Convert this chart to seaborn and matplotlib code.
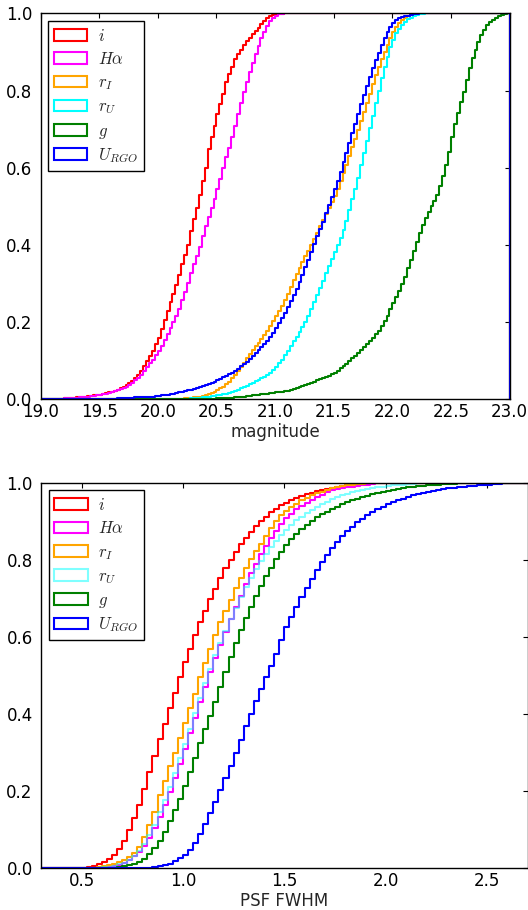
import numpy as np
import pandas as pd
import matplotlib
matplotlib.use("Agg")
import matplotlib.pyplot as plt
from matplotlib.patches import Patch
from matplotlib.ticker import FormatStrFormatter
import seaborn as sns

sns.set_style("white")
plt.rcParams["font.family"] = ["DejaVu Sans"]
plt.rcParams["mathtext.fontset"] = "cm"

# ---------------- data ----------------
legend_labels = [r"$i$", r"$H\alpha$", r"$r_I$", r"$r_U$", r"$g$", r"$U_{RGO}$"]
colors = ["red", "magenta", "orange", "cyan", "green", "blue"]

# bin edges (0.025 wide)
mag_edges = np.linspace(19.0, 23.0, 161)
fwhm_edges = np.linspace(0.3, 2.75, 99)

mag_xticks = [19.0, 19.5, 20.0, 20.5, 21.0, 21.5, 22.0, 22.5, 23.0]
fwhm_xticks = [0.5, 1.0, 1.5, 2.0, 2.5]
y_ticks = [0.0, 0.2, 0.4, 0.6, 0.8, 1.0]

# cumulative fractions per magnitude bin (from 19.025), saturating at 1.0
mag_i = [
    0, 0, 0, 0.001, 0.001, 0.001, 0.002, 0.002,
    0.003, 0.003, 0.004, 0.004, 0.005, 0.006, 0.007, 0.007,
    0.008, 0.009, 0.010, 0.011, 0.012, 0.014, 0.016, 0.018,
    0.020, 0.022, 0.025, 0.028, 0.032, 0.037, 0.042, 0.048,
    0.055, 0.064, 0.074, 0.086, 0.099, 0.112, 0.126, 0.142,
    0.160, 0.182, 0.205, 0.228, 0.251, 0.273, 0.297, 0.323,
    0.350, 0.375, 0.400, 0.435, 0.467, 0.496, 0.530, 0.565,
    0.600, 0.648, 0.680, 0.708, 0.740, 0.765, 0.792, 0.822,
    0.842, 0.862, 0.881, 0.894, 0.906, 0.918, 0.928, 0.937,
    0.946, 0.954, 0.963, 0.972, 0.980, 0.987, 0.992, 0.995,
    0.997, 0.998, 0.999, 1.0,
]
mag_ha = [
    0, 0, 0, 0.001, 0.001, 0.001, 0.002, 0.002,
    0.003, 0.003, 0.003, 0.004, 0.004, 0.005, 0.005, 0.006,
    0.007, 0.008, 0.009, 0.010, 0.011, 0.013, 0.015, 0.017,
    0.019, 0.021, 0.023, 0.026, 0.029, 0.033, 0.038, 0.043,
    0.049, 0.056, 0.064, 0.073, 0.083, 0.093, 0.103, 0.114,
    0.126, 0.139, 0.153, 0.168, 0.184, 0.200, 0.217, 0.235,
    0.256, 0.279, 0.302, 0.326, 0.350, 0.372, 0.395, 0.423,
    0.450, 0.472, 0.495, 0.518, 0.545, 0.572, 0.600, 0.628,
    0.652, 0.680, 0.708, 0.738, 0.768, 0.795, 0.822, 0.848,
    0.872, 0.895, 0.915, 0.935, 0.952, 0.967, 0.979, 0.988,
    0.994, 0.997, 0.999, 1.0,
]
mag_ri = [
    0, 0, 0, 0, 0, 0, 0, 0,
    0, 0, 0, 0, 0, 0, 0, 0,
    0, 0, 0, 0, 0, 0, 0, 0,
    0, 0, 0, 0, 0, 0, 0, 0,
    0, 0, 0, 0, 0, 0, 0, 0,
    0, 0, 0, 0, 0.001, 0.001, 0.001, 0.002,
    0.002, 0.003, 0.003, 0.004, 0.005, 0.006, 0.007, 0.008,
    0.010, 0.013, 0.016, 0.020, 0.024, 0.028, 0.033, 0.039,
    0.046, 0.054, 0.063, 0.073, 0.083, 0.094, 0.106, 0.117,
    0.127, 0.137, 0.146, 0.156, 0.167, 0.178, 0.190, 0.202,
    0.215, 0.229, 0.243, 0.258, 0.274, 0.291, 0.308, 0.325,
    0.341, 0.356, 0.371, 0.385, 0.400, 0.416, 0.432, 0.449,
    0.465, 0.480, 0.496, 0.511, 0.527, 0.545, 0.565, 0.585,
    0.607, 0.630, 0.653, 0.675, 0.697, 0.720, 0.744, 0.767,
    0.792, 0.816, 0.840, 0.862, 0.882, 0.900, 0.918, 0.936,
    0.952, 0.964, 0.974, 0.982, 0.988, 0.993, 0.996, 0.998,
    0.999, 1.0,
]
mag_ru = [
    0, 0, 0, 0, 0, 0, 0, 0,
    0, 0, 0, 0, 0, 0, 0, 0,
    0, 0, 0, 0, 0, 0, 0, 0,
    0, 0, 0, 0, 0, 0, 0, 0,
    0, 0, 0, 0, 0, 0, 0, 0,
    0, 0, 0, 0, 0.001, 0.001, 0.001, 0.001,
    0.002, 0.002, 0.002, 0.003, 0.003, 0.004, 0.004, 0.005,
    0.006, 0.007, 0.008, 0.009, 0.010, 0.012, 0.013, 0.015,
    0.017, 0.019, 0.022, 0.025, 0.028, 0.031, 0.035, 0.039,
    0.043, 0.047, 0.051, 0.055, 0.059, 0.063, 0.069, 0.076,
    0.084, 0.093, 0.103, 0.114, 0.125, 0.137, 0.150, 0.162,
    0.174, 0.187, 0.201, 0.217, 0.235, 0.253, 0.271, 0.289,
    0.307, 0.326, 0.345, 0.364, 0.382, 0.400, 0.418, 0.438,
    0.463, 0.490, 0.518, 0.545, 0.574, 0.606, 0.638, 0.670,
    0.702, 0.735, 0.768, 0.800, 0.832, 0.862, 0.888, 0.912,
    0.932, 0.948, 0.960, 0.970, 0.978, 0.984, 0.989, 0.993,
    0.996, 0.998, 0.999, 1.0,
]
mag_g = [
    0, 0, 0, 0, 0, 0, 0, 0,
    0, 0, 0, 0, 0, 0, 0, 0,
    0, 0, 0, 0, 0, 0, 0, 0,
    0, 0, 0, 0, 0, 0, 0, 0,
    0, 0, 0, 0, 0, 0, 0, 0,
    0, 0, 0, 0, 0, 0, 0, 0,
    0.001, 0.001, 0.001, 0.001, 0.001, 0.001, 0.002, 0.002,
    0.002, 0.002, 0.002, 0.002, 0.003, 0.003, 0.003, 0.004,
    0.004, 0.004, 0.005, 0.005, 0.006, 0.007, 0.008, 0.009,
    0.010, 0.011, 0.012, 0.013, 0.014, 0.015, 0.016, 0.017,
    0.018, 0.019, 0.020, 0.021, 0.022, 0.024, 0.026, 0.028,
    0.031, 0.034, 0.037, 0.040, 0.043, 0.046, 0.049, 0.052,
    0.055, 0.058, 0.061, 0.065, 0.069, 0.074, 0.080, 0.086,
    0.092, 0.099, 0.106, 0.113, 0.120, 0.128, 0.136, 0.144,
    0.151, 0.159, 0.168, 0.178, 0.190, 0.203, 0.217, 0.233,
    0.249, 0.265, 0.281, 0.298, 0.318, 0.340, 0.362, 0.385,
    0.408, 0.430, 0.452, 0.470, 0.486, 0.500, 0.515, 0.530,
    0.552, 0.578, 0.606, 0.640, 0.680, 0.712, 0.742, 0.770,
    0.797, 0.828, 0.858, 0.884, 0.906, 0.926, 0.944, 0.958,
    0.969, 0.977, 0.983, 0.988, 0.992, 0.995, 0.998, 1.0,
]
mag_u = [
    0, 0, 0, 0, 0, 0, 0, 0,
    0, 0, 0, 0, 0, 0, 0, 0,
    0, 0.001, 0.001, 0.001, 0.001, 0.001, 0.002, 0.002,
    0.002, 0.002, 0.003, 0.003, 0.003, 0.004, 0.004, 0.004,
    0.005, 0.005, 0.005, 0.006, 0.006, 0.007, 0.007, 0.008,
    0.009, 0.010, 0.011, 0.012, 0.013, 0.015, 0.016, 0.018,
    0.019, 0.021, 0.023, 0.025, 0.027, 0.029, 0.032, 0.034,
    0.037, 0.040, 0.043, 0.046, 0.049, 0.053, 0.057, 0.061,
    0.065, 0.069, 0.074, 0.079, 0.085, 0.091, 0.097, 0.104,
    0.111, 0.119, 0.127, 0.135, 0.143, 0.152, 0.162, 0.173,
    0.185, 0.198, 0.211, 0.224, 0.239, 0.254, 0.270, 0.286,
    0.303, 0.322, 0.342, 0.362, 0.382, 0.402, 0.422, 0.440,
    0.460, 0.482, 0.504, 0.525, 0.545, 0.566, 0.590, 0.614,
    0.638, 0.664, 0.690, 0.714, 0.740, 0.765, 0.789, 0.812,
    0.836, 0.858, 0.879, 0.898, 0.918, 0.937, 0.952, 0.965,
    0.975, 0.982, 0.987, 0.990, 0.992, 0.994, 0.996, 0.998,
    0.999, 1.0,
]

# cumulative fractions per PSF FWHM bin (from 0.325), saturating at 1.0
fwhm_i = [
    0, 0, 0, 0, 0, 0, 0.001, 0.001,
    0.002, 0.004, 0.007, 0.011, 0.016, 0.023, 0.034, 0.050,
    0.072, 0.100, 0.130, 0.165, 0.205, 0.250, 0.290, 0.335,
    0.375, 0.415, 0.455, 0.495, 0.535, 0.570, 0.605, 0.638,
    0.668, 0.698, 0.725, 0.752, 0.778, 0.800, 0.820, 0.840,
    0.857, 0.873, 0.888, 0.900, 0.912, 0.923, 0.932, 0.941,
    0.948, 0.955, 0.961, 0.966, 0.970, 0.974, 0.978, 0.981,
    0.984, 0.987, 0.989, 0.991, 0.993, 0.995, 0.996, 0.997,
    0.998, 0.999, 1.0,
]
fwhm_ha = [
    0, 0, 0, 0, 0, 0, 0, 0,
    0, 0, 0.001, 0.001, 0.002, 0.003, 0.005, 0.008,
    0.013, 0.021, 0.031, 0.043, 0.058, 0.079, 0.105, 0.134,
    0.165, 0.197, 0.234, 0.270, 0.310, 0.350, 0.390, 0.430,
    0.470, 0.510, 0.545, 0.580, 0.614, 0.646, 0.677, 0.707,
    0.737, 0.765, 0.790, 0.814, 0.836, 0.857, 0.876, 0.894,
    0.908, 0.920, 0.931, 0.940, 0.948, 0.956, 0.963, 0.969,
    0.975, 0.980, 0.983, 0.986, 0.988, 0.990, 0.992, 0.994,
    0.995, 0.997, 0.998, 0.999, 0.999, 1.0,
]
fwhm_ri = [
    0, 0, 0, 0, 0, 0, 0, 0,
    0.001, 0.001, 0.002, 0.003, 0.005, 0.008, 0.011, 0.016,
    0.022, 0.030, 0.040, 0.056, 0.082, 0.112, 0.145, 0.190,
    0.226, 0.265, 0.300, 0.337, 0.376, 0.415, 0.453, 0.495,
    0.532, 0.570, 0.604, 0.638, 0.667, 0.697, 0.726, 0.753,
    0.778, 0.801, 0.822, 0.842, 0.862, 0.882, 0.900, 0.915,
    0.927, 0.937, 0.946, 0.954, 0.961, 0.967, 0.972, 0.977,
    0.981, 0.985, 0.988, 0.991, 0.993, 0.995, 0.996, 0.997,
    0.998, 0.999, 0.999, 1.0,
]
fwhm_ru = [
    0, 0, 0, 0, 0, 0, 0, 0,
    0, 0, 0.001, 0.002, 0.003, 0.004, 0.007, 0.010,
    0.015, 0.022, 0.033, 0.046, 0.063, 0.086, 0.113, 0.145,
    0.178, 0.212, 0.248, 0.285, 0.323, 0.362, 0.402, 0.442,
    0.480, 0.518, 0.552, 0.585, 0.616, 0.647, 0.676, 0.703,
    0.729, 0.753, 0.775, 0.796, 0.815, 0.833, 0.849, 0.864,
    0.878, 0.891, 0.902, 0.912, 0.921, 0.929, 0.937, 0.944,
    0.951, 0.957, 0.962, 0.967, 0.971, 0.975, 0.978, 0.981,
    0.984, 0.986, 0.988, 0.990, 0.992, 0.993, 0.994, 0.995,
    0.996, 0.997, 0.998, 0.998, 0.999, 0.999, 1.0,
]
fwhm_g = [
    0, 0, 0, 0, 0, 0, 0, 0,
    0, 0, 0.001, 0.001, 0.001, 0.002, 0.002, 0.003,
    0.005, 0.008, 0.011, 0.016, 0.024, 0.038, 0.053, 0.072,
    0.095, 0.122, 0.150, 0.180, 0.214, 0.250, 0.287, 0.325,
    0.360, 0.394, 0.432, 0.471, 0.510, 0.548, 0.584, 0.617,
    0.648, 0.677, 0.705, 0.732, 0.757, 0.780, 0.801, 0.820,
    0.838, 0.853, 0.867, 0.880, 0.891, 0.901, 0.910, 0.918,
    0.925, 0.932, 0.938, 0.944, 0.949, 0.954, 0.958, 0.962,
    0.966, 0.970, 0.973, 0.977, 0.979, 0.981, 0.983, 0.986,
    0.988, 0.989, 0.991, 0.992, 0.993, 0.994, 0.995, 0.996,
    0.997, 0.997, 0.998, 0.998, 0.999, 0.999, 1.0,
]
fwhm_u = [
    0, 0, 0, 0, 0, 0, 0, 0,
    0, 0, 0, 0, 0, 0, 0, 0,
    0, 0, 0.001, 0.001, 0.002, 0.002, 0.003, 0.005,
    0.008, 0.012, 0.018, 0.026, 0.035, 0.047, 0.066, 0.090,
    0.115, 0.143, 0.172, 0.202, 0.233, 0.266, 0.299, 0.334,
    0.368, 0.401, 0.433, 0.465, 0.496, 0.525, 0.555, 0.592,
    0.625, 0.652, 0.678, 0.703, 0.727, 0.751, 0.774, 0.794,
    0.812, 0.830, 0.847, 0.862, 0.875, 0.886, 0.897, 0.907,
    0.916, 0.924, 0.931, 0.938, 0.944, 0.949, 0.954, 0.959,
    0.963, 0.967, 0.971, 0.974, 0.977, 0.979, 0.982, 0.984,
    0.985, 0.987, 0.988, 0.990, 0.991, 0.992, 0.993, 0.994,
    0.995, 0.996, 0.997, 0.998, 0.998, 0.999, 0.999, 1.0,
]

mag_series = [mag_i, mag_ha, mag_ri, mag_ru, mag_g, mag_u]
fwhm_series = [fwhm_i, fwhm_ha, fwhm_ri, fwhm_ru, fwhm_g, fwhm_u]
mag_alpha = [1, 1, 1, 1, 1, 1]
fwhm_alpha = [1, 1, 1, 0.5, 1, 1]


def full_cdf(vals, nbins):
    v = np.asarray(vals, dtype=float)
    return np.concatenate([v, np.ones(nbins - len(v))])


def draw_panel(ax, edges, series, alphas, close_right):
    centers = 0.5 * (edges[:-1] + edges[1:])
    nb = len(centers)
    for vals, col, a in zip(series, colors, alphas):
        cdf = full_cdf(vals, nb)
        w = np.diff(np.concatenate([[0.0], cdf]))
        df = pd.DataFrame({"value": centers, "w": w})
        sns.histplot(data=df, x="value", weights="w", bins=list(edges),
                     cumulative=True, element="step", fill=False,
                     stat="count", color=col, alpha=a, linewidth=1.5, ax=ax)
        if close_right:
            ax.plot([edges[-1], edges[-1]], [cdf[-1], 0.0], color=col,
                    alpha=a, linewidth=1.5)
    handles = [Patch(facecolor="none", edgecolor=c, linewidth=1.5, alpha=a)
               for c, a in zip(colors, alphas)]
    leg = ax.legend(handles, legend_labels, loc="upper left", fontsize=12,
                    frameon=True, fancybox=False, framealpha=1,
                    edgecolor="black", borderaxespad=0.45, labelspacing=0.32,
                    handletextpad=0.65, borderpad=0.35)
    leg.get_frame().set_linewidth(1.0)


def style_axes(ax, xlim, xticks, xlabel):
    ax.set_xlim(*xlim)
    ax.set_ylim(0, 1)
    ax.set_xticks(xticks)
    ax.set_yticks(y_ticks)
    ax.xaxis.set_major_formatter(FormatStrFormatter("%.1f"))
    ax.yaxis.set_major_formatter(FormatStrFormatter("%.1f"))
    ax.tick_params(direction="in", top=True, right=True, length=3.5,
                   width=0.8, labelsize=12, colors="black")
    ax.tick_params(axis="y", pad=6)
    ax.tick_params(axis="x", pad=2.5)
    for s in ax.spines.values():
        s.set_visible(True)
        s.set_color("black")
        s.set_linewidth(1.0)
    ax.set_xlabel(xlabel, fontsize=12, labelpad=1.5)
    ax.set_ylabel("")


fig = plt.figure(figsize=(5.28, 9.10), dpi=100)
ax1 = fig.add_axes([40.5 / 528, 1 - 399.3 / 910, 469.2 / 528, 386.0 / 910])
ax2 = fig.add_axes([41.0 / 528, 1 - 868.3 / 910, 486.5 / 528, 385.6 / 910])

draw_panel(ax1, mag_edges, mag_series, mag_alpha, True)
draw_panel(ax2, fwhm_edges, fwhm_series, fwhm_alpha, False)

style_axes(ax1, (19.0, 23.0), mag_xticks, "magnitude")
style_axes(ax2, (0.3, 2.7), fwhm_xticks, "PSF FWHM")

fig.savefig("out.png", dpi=100)
